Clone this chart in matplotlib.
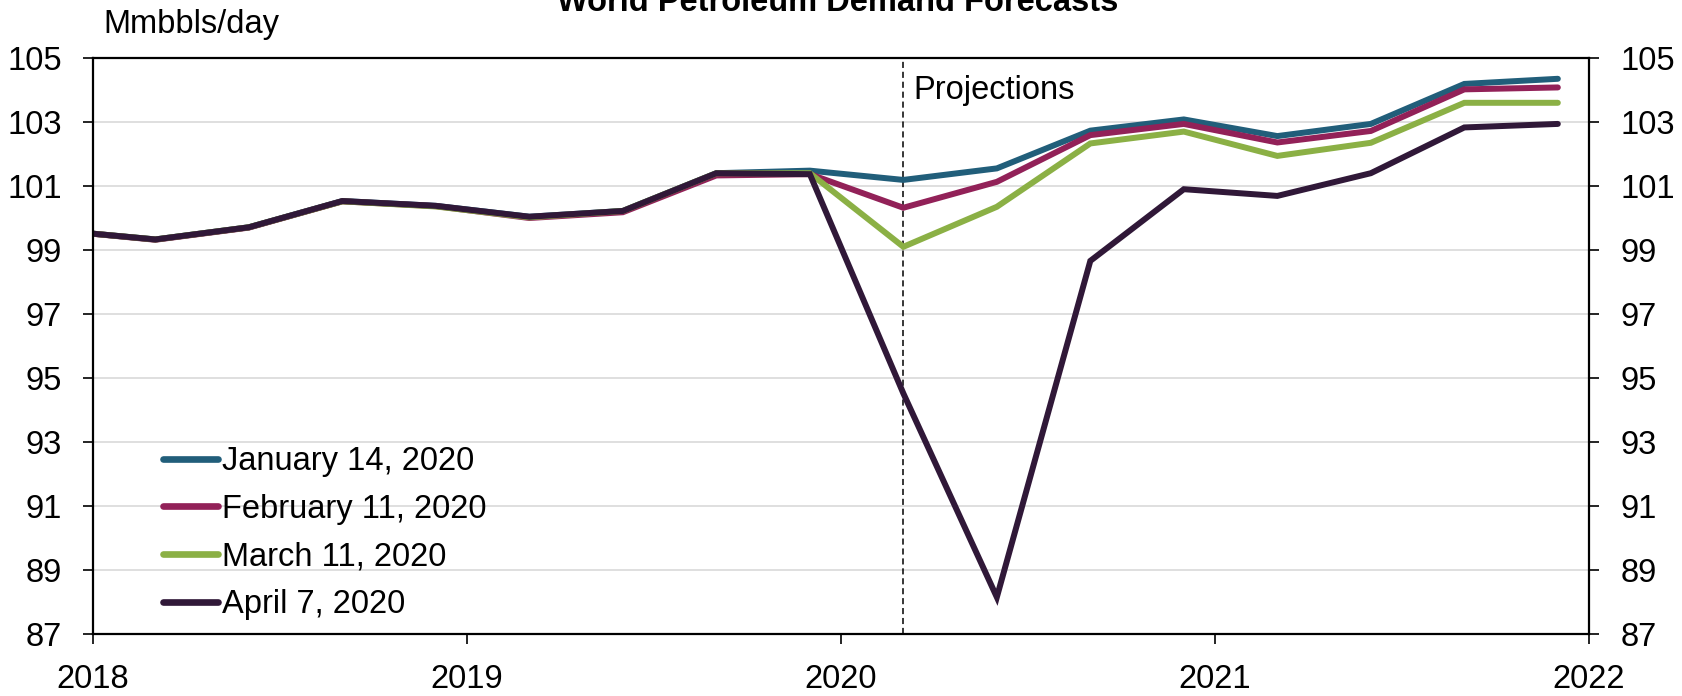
import numpy as np
import matplotlib
matplotlib.use('Agg')
import matplotlib.pyplot as plt

plt.rcParams['font.family'] = ['Liberation Sans Narrow', 'Liberation Sans', 'DejaVu Sans']

# quarterly points (Mar, Jun, Sep, Dec), Dec 2017 first so the line enters at 2018
quarters = ['2017-12', '2018-03', '2018-06', '2018-09', '2018-12',
            '2019-03', '2019-06', '2019-09', '2019-12',
            '2020-03', '2020-06', '2020-09', '2020-12',
            '2021-03', '2021-06', '2021-09', '2021-12']

jan14 = [99.60, 99.33, 99.71, 100.53, 100.38, 100.04, 100.22, 101.40, 101.48,
         101.19, 101.55, 102.73, 103.08, 102.56, 102.94, 104.19, 104.35]
feb11 = [99.60, 99.32, 99.70, 100.52, 100.37, 100.00, 100.18, 101.33, 101.37,
         100.32, 101.13, 102.59, 102.94, 102.36, 102.72, 104.02, 104.08]
mar11 = [99.60, 99.33, 99.71, 100.52, 100.36, 100.02, 100.22, 101.40, 101.40,
         99.10, 100.35, 102.33, 102.70, 101.94, 102.35, 103.60, 103.60]
apr07 = [99.60, 99.33, 99.71, 100.53, 100.38, 100.04, 100.22, 101.40, 101.37,
         94.52, 88.15, 98.66, 100.90, 100.69, 101.40, 102.83, 102.94]

labels = ['January 14, 2020', 'February 11, 2020', 'March 11, 2020', 'April 7, 2020']
colors = ['#215E7A', '#922158', '#8BB045', '#301838']
projection_start = '2020-03'

FS = 23.5


def to_year(q):
    # month start as fraction of year
    y, m = q.split('-')
    return int(y) + (int(m) - 1) / 12.0


x = np.array([to_year(q) for q in quarters])

fig = plt.figure(figsize=(16.82, 6.96), dpi=100)
ax = fig.add_axes([93/1682, 1-634/696, (1589-93)/1682, (634-58)/696])

for series, lab, col in zip([jan14, feb11, mar11, apr07], labels, colors):
    ax.plot(x, series, color=col, lw=4.3, label=lab,
            solid_capstyle='round', solid_joinstyle='miter')

ax.axvline(to_year(projection_start), color='black', lw=1.1, ls=(0, (4, 2.5)), zorder=1)
ax.text(to_year(projection_start) + 0.027, 104.0, 'Projections', fontsize=FS,
        va='center', ha='left')

ax.set_xlim(2018, 2022)
ax.set_ylim(87, 105)
ax.set_yticks(np.arange(87, 106, 2))
ax.set_xticks([2018, 2019, 2020, 2021, 2022])
ax.set_xticklabels(['2018', '2019', '2020', '2021', '2022'])
ax.grid(axis='y', color='#D9D9D9', lw=1.2)
ax.set_axisbelow(True)

for s in ax.spines.values():
    s.set_linewidth(1.6)
    s.set_color('black')

ax.tick_params(axis='y', direction='out', length=7.5, width=1.2, labelsize=FS,
               left=True, right=True, labelleft=True, labelright=True, pad=15)
ax.tick_params(axis='x', direction='out', length=7.5, width=1.2, labelsize=FS, pad=14)

fig.text(103/1682, 1-33/696, 'Mmbbls/day', fontsize=FS, va='baseline', ha='left')
fig.text(838/1682, 1-11/696, 'World Petroleum Demand Forecasts', fontsize=FS,
         fontweight='bold', va='baseline', ha='center')

leg = ax.legend(loc='upper left', bbox_to_anchor=(163/1682, 1-446/696),
                bbox_transform=fig.transFigure, frameon=False, fontsize=FS,
                handlelength=1.69, handletextpad=0.12, labelspacing=0.51,
                borderpad=0, borderaxespad=0)
for h in leg.get_lines():
    h.set_linewidth(4.8)
    h.set_solid_capstyle('round')

fig.savefig('out.png', dpi=100)
